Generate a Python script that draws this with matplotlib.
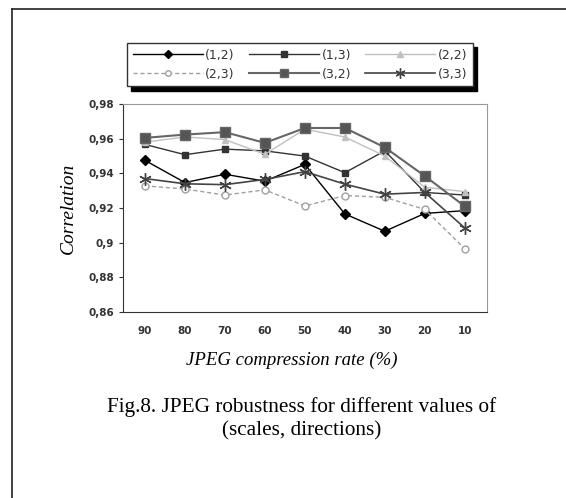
import numpy as np
import matplotlib
matplotlib.use("Agg")
import matplotlib.pyplot as plt
from matplotlib.lines import Line2D

rates = ['90', '80', '70', '60', '50', '40', '30', '20', '10']
s12 = [0.9475, 0.9347, 0.9395, 0.9355, 0.9452, 0.9166, 0.9066, 0.9169, 0.9185]
s13 = [0.9567, 0.9508, 0.9540, 0.9530, 0.9500, 0.9404, 0.9530, 0.9290, 0.9275]
s22 = [0.9580, 0.9610, 0.9595, 0.9510, 0.9655, 0.9610, 0.9500, 0.9320, 0.9295]
s23 = [0.9328, 0.9310, 0.9275, 0.9305, 0.9212, 0.9272, 0.9262, 0.9192, 0.8965]
s32 = [0.9605, 0.9624, 0.9638, 0.9576, 0.9662, 0.9662, 0.9550, 0.9385, 0.9210]
s33 = [0.9370, 0.9340, 0.9335, 0.9365, 0.9410, 0.9338, 0.9280, 0.9290, 0.9085]
labels = ['(1,2)', '(1,3)', '(2,2)', '(2,3)', '(3,2)', '(3,3)']
yticks = [0.86, 0.88, 0.90, 0.92, 0.94, 0.96, 0.98]
yticklabels = ['0,86', '0,88', '0,9', '0,92', '0,94', '0,96', '0,98']

fig = plt.figure(figsize=(5.66, 4.98), dpi=100)
ax = fig.add_axes([0.2173, 0.3735, 0.6427, 0.4175])
x = np.arange(len(rates))

# styles for each series
styles = [
    dict(color='black', marker='D', ms=5, lw=1.0, ls='-', mfc='black'),
    dict(color='#333333', marker='s', ms=5, lw=1.0, ls='-', mfc='#333333'),
    dict(color='#c0c0c0', marker='^', ms=5, lw=1.0, ls='-', mfc='#c0c0c0'),
    dict(color='#a0a0a0', marker='o', ms=5, lw=1.0, ls='--', mfc='white', dashes=(3, 2)),
    dict(color='#666666', marker='s', ms=7, lw=1.5, ls='-', mfc='#555555'),
    dict(color='#444444', marker=(6, 2, 0), ms=9, lw=1.2, ls='-', mfc='#444444'),
]
series = [s12, s13, s22, s23, s32, s33]
handles = []
for s, st, lab in zip(series, styles, labels):
    h, = ax.plot(x, s, label=lab, **st)
    handles.append(h)

ax.set_xlim(-0.55, len(rates) - 0.45)
ax.set_ylim(0.86, 0.98)
ax.set_xticks(x)
ax.set_xticklabels(rates)
ax.set_yticks(yticks)
ax.set_yticklabels(yticklabels)
ax.tick_params(axis='x', length=0, pad=10, labelsize=7.5, colors='#333333')
ax.tick_params(axis='y', length=3, labelsize=7.5, colors='#333333')
for lab in ax.get_xticklabels() + ax.get_yticklabels():
    lab.set_fontweight('bold')
ax.spines['left'].set_color('#333333')
ax.spines['bottom'].set_color('#333333')
ax.spines['top'].set_color('#999999')
ax.spines['right'].set_color('#999999')

ax.set_ylabel('Correlation', family='Liberation Serif', style='italic', fontsize=14, labelpad=8)
ax.set_xlabel('JPEG compression rate (%)', family='Liberation Serif', style='italic', fontsize=13.5)
ax.xaxis.set_label_coords(0.465, -0.19)

# legend: ncol=3 fills column by column
order = [0, 3, 1, 4, 2, 5]
leg = fig.legend([handles[i] for i in order], [labels[i] for i in order], ncol=3,
                 loc='upper left', bbox_to_anchor=(127 / 566, 1 - 43 / 498), frameon=True,
                 fancybox=False, shadow={'color': 'black', 'alpha': 1, 'ox': 3, 'oy': -3},
                 edgecolor='#333333',
                 handlelength=5.6, handletextpad=0.2, columnspacing=1.15, labelspacing=0.5,
                 borderpad=0.45, borderaxespad=0, prop={'size': 9}, markerscale=0.8)
for t in leg.get_texts():
    t.set_color('#333333')

fig.text(0.533, 1 - 407 / 498, 'Fig.8. JPEG robustness for different values of',
         family='Liberation Serif', fontsize=15.3, ha='center', va='center')
fig.text(0.533, 1 - 431 / 498, '(scales, directions)',
         family='Liberation Serif', fontsize=15.3, ha='center', va='center')

# outer frame
fig.add_artist(Line2D([12 / 566, 12 / 566], [0, 1 - 9 / 498], color='#222222', lw=1.2, transform=fig.transFigure))
fig.add_artist(Line2D([12 / 566, 1], [1 - 9 / 498, 1 - 9 / 498], color='#222222', lw=1.2, transform=fig.transFigure))

fig.savefig('out.png', dpi=100)
